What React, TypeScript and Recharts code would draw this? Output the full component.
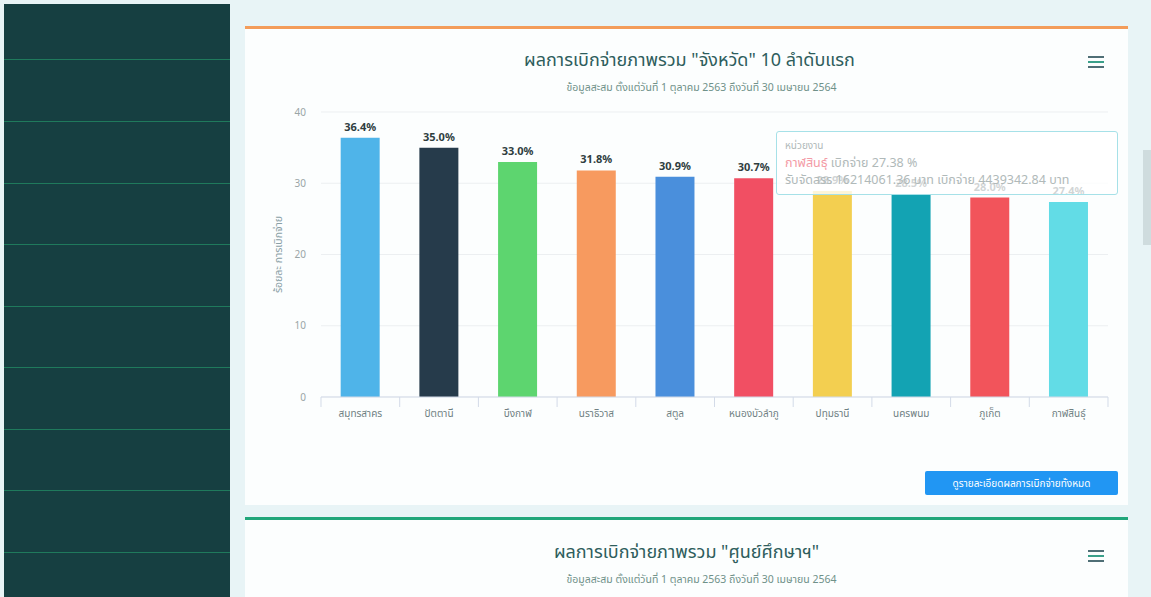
import React from 'react';
import {
  BarChart,
  Bar,
  XAxis,
  YAxis,
  CartesianGrid,
  Tooltip,
  LabelList,
  Cell
} from 'recharts';

// provinces, top 10 by disbursement rate
const provinces = [
  'สมุทรสาคร',
  'ปัตตานี',
  'บึงกาฬ',
  'นราธิวาส',
  'สตูล',
  'หนองบัวลำภู',
  'ปทุมธานี',
  'นครพนม',
  'ภูเก็ต',
  'กาฬสินธุ์',
];
const percents = [36.4, 35.0, 33.0, 31.8, 30.9, 30.7, 28.9, 28.5, 28.0, 27.38];
const barColors = [
  '#4fb4e9',
  '#263b4b',
  '#5dd56f',
  '#f79a5f',
  '#4a8fdc',
  '#f14f63',
  '#f3cf50',
  '#13a3b3',
  '#f2545b',
  '#62dce6',
];
const yTicks = [0, 10, 20, 30, 40];

// tooltip shown for กาฬสินธุ์
const tipIndex = 9;
const tipAllocated = 16214061.36;
const tipDisbursed = 4439342.84;

const data = provinces.map((name, i) => ({ name, value: percents[i] }));

const FONT = "'Noto Sans', 'Noto Sans Thai', Tahoma, sans-serif";
const CHART_W = 880;
const CHART_H = 340;
const Y_W = 76;
const MARGIN = { top: 17, right: 17, bottom: 8, left: 0 };
const HALF_BAND = (CHART_W - Y_W - MARGIN.left - MARGIN.right) / provinces.length / 2;

const ProvinceTick = ({ x, y, payload, index }: any) => (
  <g>
    <line x1={x - HALF_BAND} x2={x - HALF_BAND} y1={y} y2={y + 10} stroke="#d3dbe8" />
    {index === provinces.length - 1 && (
      <line x1={x + HALF_BAND} x2={x + HALF_BAND} y1={y} y2={y + 10} stroke="#d3dbe8" />
    )}
    <text x={x} y={y + 16} dy="0.35em" textAnchor="middle" fontSize={10} fill="#6f8082">
      {payload.value}
    </text>
  </g>
);

const TipBox = ({ active, payload }: any) => {
  if (!active || !payload || !payload.length) return null;
  const p = payload[0].payload;
  return (
    <div
      style={{
        background: 'rgba(255,255,255,0.78)',
        border: '1px solid #a6e1e8',
        borderRadius: 3,
        padding: '5px 8px 6px 8px',
        width: 324,
        fontSize: 12.5,
        lineHeight: '17px',
        color: '#b0b9b9',
        whiteSpace: 'nowrap',
        fontFamily: FONT,
      }}
    >
      <div style={{ fontSize: 10 }}>หน่วยงาน</div>
      <div>
        <span style={{ color: '#f39aa5' }}>{p.name}</span> เบิกจ่าย {p.value.toFixed(2)} %
      </div>
      <div>
        รับจัดสรร {tipAllocated.toFixed(2)} บาท เบิกจ่าย {tipDisbursed.toFixed(2)} บาท
      </div>
    </div>
  );
};

const Burger = ({ left, top }: { left: number; top: number }) => (
  <div style={{ position: 'absolute', left, top, width: 16 }}>
    <div style={{ height: 2, background: '#4f6f76', marginBottom: 3 }} />
    <div style={{ height: 2, background: '#3aa08a', marginBottom: 3 }} />
    <div style={{ height: 2, background: '#4f6f76' }} />
  </div>
);

export default function App() {
  const stripes = [60, 122, 184, 245, 307, 368, 430, 491, 553];
  return (
    <div
      style={{
        position: 'absolute',
        left: 0,
        top: 0,
        width: 1151,
        height: 597,
        overflow: 'hidden',
        background: '#e8f4f6',
        fontFamily: FONT,
      }}
    >
      {/* dark side menu */}
      <div style={{ position: 'absolute', left: 4, top: 4, width: 226, height: 593, background: '#163f41' }}>
        {stripes.map((s) => (
          <div
            key={s}
            style={{ position: 'absolute', left: 0, top: s - 5, width: 226, height: 1, background: '#1f7a5c' }}
          />
        ))}
      </div>

      {/* scrollbar */}
      <div style={{ position: 'absolute', left: 1143, top: 150, width: 8, height: 95, background: '#cfdcde' }} />

      {/* card 1 */}
      <div
        style={{
          position: 'absolute',
          left: 245,
          top: 26,
          width: 883,
          height: 476,
          background: '#fcfefe',
          borderTop: '3px solid #f39c5a',
        }}
      >
        <div
          style={{
            position: 'absolute',
            left: 0,
            width: 883,
            top: 18,
            textAlign: 'center',
            fontSize: 18,
            color: '#2e5d5c',
            paddingLeft: 6,
            boxSizing: 'border-box',
          }}
        >
          ผลการเบิกจ่ายภาพรวม "จังหวัด" 10 ลำดับแรก
        </div>
        <div
          style={{
            position: 'absolute',
            left: 0,
            width: 883,
            top: 51,
            textAlign: 'center',
            fontSize: 10.5,
            color: '#6f9189',
            paddingLeft: 30,
            boxSizing: 'border-box',
          }}
        >
          ข้อมูลสะสม ตั้งแต่วันที่ 1 ตุลาคม 2563 ถึงวันที่ 30 เมษายน 2564
        </div>
        <Burger left={843} top={27} />
        <div
          style={{
            position: 'absolute',
            left: 680,
            top: 442,
            width: 193,
            height: 24,
            background: '#2196f3',
            color: '#fff',
            fontSize: 10,
            lineHeight: '24px',
            textAlign: 'center',
            borderRadius: 2,
          }}
        >
          ดูรายละเอียดผลการเบิกจ่ายทั้งหมด
        </div>
      </div>

      {/* chart */}
      <div style={{ position: 'absolute', left: 245, top: 95 }}>
        <BarChart
          width={CHART_W}
          height={CHART_H}
          data={data}
          margin={MARGIN}
          barCategoryGap="25%"
          style={{ fontFamily: FONT }}
        >
          <CartesianGrid vertical={false} stroke="#eceff1" />
          <XAxis
            dataKey="name"
            interval={0}
            tickLine={false}
            tickSize={0}
            tickMargin={0}
            height={30}
            axisLine={{ stroke: '#d3dbe8' }}
            tick={<ProvinceTick />}
          />
          <YAxis
            width={Y_W}
            domain={[0, 40]}
            ticks={yTicks}
            axisLine={false}
            tickLine={false}
            tickSize={0}
            tickMargin={15}
            tick={{ fontSize: 10, fill: '#9aa5a6' }}
            label={{
              value: 'ร้อยละ การเบิกจ่าย',
              angle: -90,
              position: 'insideLeft',
              offset: 33,
              style: { textAnchor: 'middle', fontSize: 10.5, fill: '#8aa0a6' },
            }}
          />
          <Bar dataKey="value" isAnimationActive={false}>
            {data.map((d, i) => (
              <Cell key={d.name} fill={barColors[i]} />
            ))}
            <LabelList
              dataKey="value"
              position="top"
              offset={7}
              formatter={(v: any) => `${Number(v).toFixed(1)}%`}
              style={{ fontSize: 11, fontWeight: 'bold', fill: '#2f3d3f' }}
            />
          </Bar>
          <Tooltip
            active
            defaultIndex={tipIndex}
            cursor={false}
            isAnimationActive={false}
            position={{ x: 531, y: 36 }}
            content={<TipBox />}
            wrapperStyle={{ outline: 'none' }}
          />
        </BarChart>
      </div>

      {/* card 2 */}
      <div
        style={{
          position: 'absolute',
          left: 245,
          top: 517,
          width: 883,
          height: 100,
          background: '#fcfefe',
          borderTop: '3px solid #21a67a',
        }}
      >
        <div
          style={{
            position: 'absolute',
            left: 0,
            width: 883,
            top: 19,
            textAlign: 'center',
            fontSize: 18,
            color: '#2e5d5c',
            boxSizing: 'border-box',
          }}
        >
          ผลการเบิกจ่ายภาพรวม "ศูนย์ศึกษาฯ"
        </div>
        <div
          style={{
            position: 'absolute',
            left: 0,
            width: 883,
            top: 52,
            textAlign: 'center',
            fontSize: 10.5,
            color: '#6f9189',
            paddingLeft: 30,
            boxSizing: 'border-box',
          }}
        >
          ข้อมูลสะสม ตั้งแต่วันที่ 1 ตุลาคม 2563 ถึงวันที่ 30 เมษายน 2564
        </div>
        <Burger left={843} top={30} />
      </div>
    </div>
  );
}
